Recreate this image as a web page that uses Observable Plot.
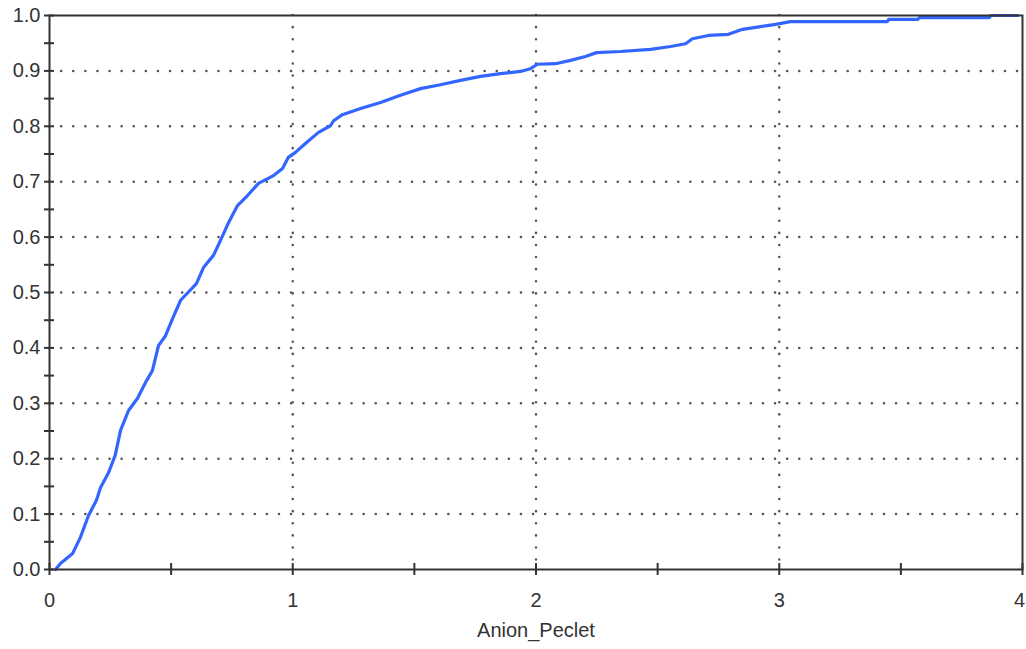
<!DOCTYPE html>
<html>
<head>
<meta charset="utf-8">
<script src="https://cdn.jsdelivr.net/npm/d3@7"></script>
<script src="https://cdn.jsdelivr.net/npm/@observablehq/plot@0.6"></script>
<style>
  html, body { margin: 0; padding: 0; background: #fff; }
  #chart svg { display: block; }
</style>
</head>
<body>
<div id="chart"></div>
<script>
const peclet = [0.025, 0.045, 0.095, 0.127, 0.16, 0.193, 0.21, 0.243, 0.27, 0.292, 0.325, 0.362, 0.399, 0.423, 0.448, 0.477, 0.506, 0.539, 0.604, 0.633, 0.674, 0.703, 0.736, 0.773, 0.814, 0.859, 0.921, 0.958, 0.982, 1.011, 1.052, 1.106, 1.155, 1.168, 1.204, 1.279, 1.361, 1.443, 1.525, 1.607, 1.69, 1.772, 1.854, 1.936, 1.977, 2.006, 2.08, 2.142, 2.203, 2.249, 2.347, 2.471, 2.553, 2.615, 2.643, 2.709, 2.791, 2.849, 2.923, 2.985, 3.046, 3.445, 3.45, 3.57, 3.575, 3.864, 3.87, 3.98];
const cumFrac = [0.0, 0.011, 0.029, 0.058, 0.097, 0.125, 0.148, 0.175, 0.206, 0.251, 0.287, 0.309, 0.341, 0.359, 0.404, 0.422, 0.453, 0.486, 0.516, 0.545, 0.567, 0.594, 0.626, 0.657, 0.675, 0.697, 0.711, 0.724, 0.744, 0.753, 0.769, 0.789, 0.801, 0.81, 0.821, 0.832, 0.843, 0.856, 0.868, 0.875, 0.883, 0.89, 0.895, 0.899, 0.904, 0.912, 0.913, 0.919, 0.926, 0.933, 0.935, 0.939, 0.944, 0.949, 0.958, 0.964, 0.966, 0.975, 0.98, 0.984, 0.989, 0.989, 0.993, 0.993, 0.996, 0.996, 1.0, 1.0];

const xMajor = [0, 1, 2, 3, 4];
const xMinor = [0.5, 1.5, 2.5, 3.5];
const xGrid = [1, 2, 3];
const yMajor = [0, 0.1, 0.2, 0.3, 0.4, 0.5, 0.6, 0.7, 0.8, 0.9, 1.0];
const yMinor = [0.05, 0.15, 0.25, 0.35, 0.45, 0.55, 0.65, 0.75, 0.85, 0.95];
const yGrid = [0.1, 0.2, 0.3, 0.4, 0.5, 0.6, 0.7, 0.8, 0.9];
const xLabel = "Anion_Peclet";

const data = peclet.map((x, i) => ({x, y: cumFrac[i]}));
const axisColor = "#333";
const xLast = xMajor[xMajor.length - 1];

const chart = Plot.plot({
  width: 1026,
  height: 649,
  marginLeft: 49,
  marginRight: 4,
  marginTop: 15,
  marginBottom: 80,
  style: {fontFamily: "'Liberation Sans', Arial, sans-serif", fontSize: "20px", color: axisColor, background: "#fff"},
  x: {domain: [0, 4]},
  y: {domain: [0, 1]},
  marks: [
    Plot.ruleX(xGrid, {stroke: "#555", strokeWidth: 2.5, strokeDasharray: "0.1,12", strokeLinecap: "round"}),
    Plot.ruleY(yGrid, {stroke: "#555", strokeWidth: 2.5, strokeDasharray: "0.1,12", strokeLinecap: "round"}),
    Plot.line(data, {x: "x", y: "y", curve: "linear", stroke: "#3366ff", strokeWidth: 3.2}),
    Plot.frame({stroke: axisColor, strokeWidth: 2}),
    Plot.ruleY(yMajor.concat(yMinor), {y: d => d, x1: 0, x2: 0, insetLeft: -5, insetRight: -5, stroke: axisColor, strokeWidth: 2}),
    Plot.ruleX(xMajor.concat(xMinor), {x: d => d, y1: 0, y2: 0, insetTop: -6, insetBottom: -6, stroke: axisColor, strokeWidth: 2}),
    Plot.axisY(yMajor, {tickSize: 0, tickPadding: 9, tickFormat: d3.format(".1f"), label: null, fill: axisColor}),
    Plot.axisX(xMajor.filter(d => d !== xLast), {tickSize: 0, tickPadding: 23, tickFormat: d3.format("d"), label: null, fill: axisColor}),
    Plot.axisX([xLast], {tickSize: 0, tickPadding: 23, dx: -3, tickFormat: d3.format("d"), label: null, fill: axisColor}),
    Plot.text([xLabel], {frameAnchor: "bottom", dy: 67, text: d => d, fill: axisColor, fontSize: 20})
  ]
});
document.getElementById("chart").appendChild(chart);
</script>
</body>
</html>
